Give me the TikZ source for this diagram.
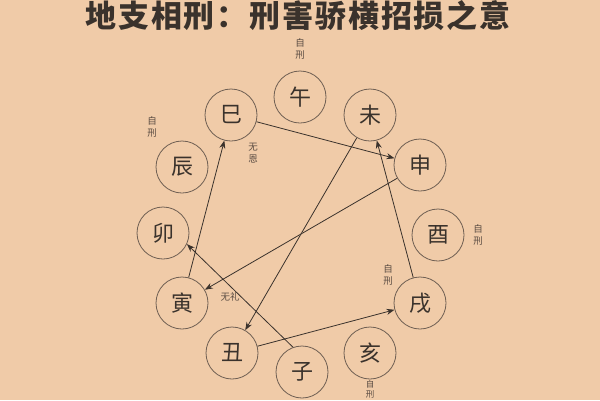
\documentclass[tikz,border=0pt]{standalone}
\usepackage{fontspec}
\newfontfamily\cjk{Noto Sans CJK SC}
\newfontfamily\cjktitle[LetterSpace=6]{Noto Sans CJK SC}
\usetikzlibrary{arrows.meta}
\definecolor{bg}{HTML}{F0CBA8}
\definecolor{ink}{HTML}{3A322C}
\definecolor{ring}{HTML}{6E5E52}
\definecolor{notec}{HTML}{5A4C42}
\begin{document}
\begin{tikzpicture}[x=1pt,y=-1pt,
  branch/.style={circle, draw=ring, line width=0.8pt, minimum size=52pt, inner sep=0pt,
    font=\cjk\fontsize{22}{22}\selectfont, text=ink},
  note/.style={font=\cjk\fontsize{9.5}{12.5}\selectfont, text=notec, align=center, inner sep=0pt},
  link/.style={draw=ink, line width=0.8pt, -{Stealth[length=8pt,width=6pt]}},
  titlestyle/.style={font=\cjktitle\bfseries\fontsize{31}{31}\selectfont, text=ink, inner sep=0pt}]
\useasboundingbox (0,0) rectangle (600,400);
\clip (0,0) rectangle (600,400);
\fill[bg] (0,0) rectangle (600,400);
\node[titlestyle] (title) at (298,15.5) {地支相刑：刑害骄横招损之意};
% branches
\node[branch] (wu)   at (300,97)  {午};
\node[branch] (wei)  at (370,115) {未};
\node[branch] (shen) at (420,165) {申};
\node[branch] (you)  at (438,235) {酉};
\node[branch] (xu)   at (420,303) {戌};
\node[branch] (hai)  at (370,353) {亥};
\node[branch] (zi)   at (302,372) {子};
\node[branch] (chou) at (232,353) {丑};
\node[branch] (yin)  at (182,303) {寅};
\node[branch] (mao)  at (163,233) {卯};
\node[branch] (chen) at (182,167) {辰};
\node[branch] (si)   at (231,115) {巳};
% notes
\node[note] (n1) at (300,49)  {自\\刑};
\node[note] (n2) at (152,127) {自\\刑};
\node[note] (n3) at (253,153) {无\\恩};
\node[note] (n4) at (478,235) {自\\刑};
\node[note] (n5) at (388,275) {自\\刑};
\node[note] (n6) at (230,297) {无礼};
\node[note, font=\cjk\fontsize{8.5}{10}\selectfont] (n7) at (370,389) {自\\刑};
% links
\draw[link] (si) -- (shen);
\draw[link] (shen) -- (yin);
\draw[link] (yin) -- (si);
\draw[link] (wei) -- (chou);
\draw[link] (chou) -- (xu);
\draw[link] (xu) -- (wei);
\draw[link] (zi.110) -- (mao.-25);
\end{tikzpicture}
\end{document}
